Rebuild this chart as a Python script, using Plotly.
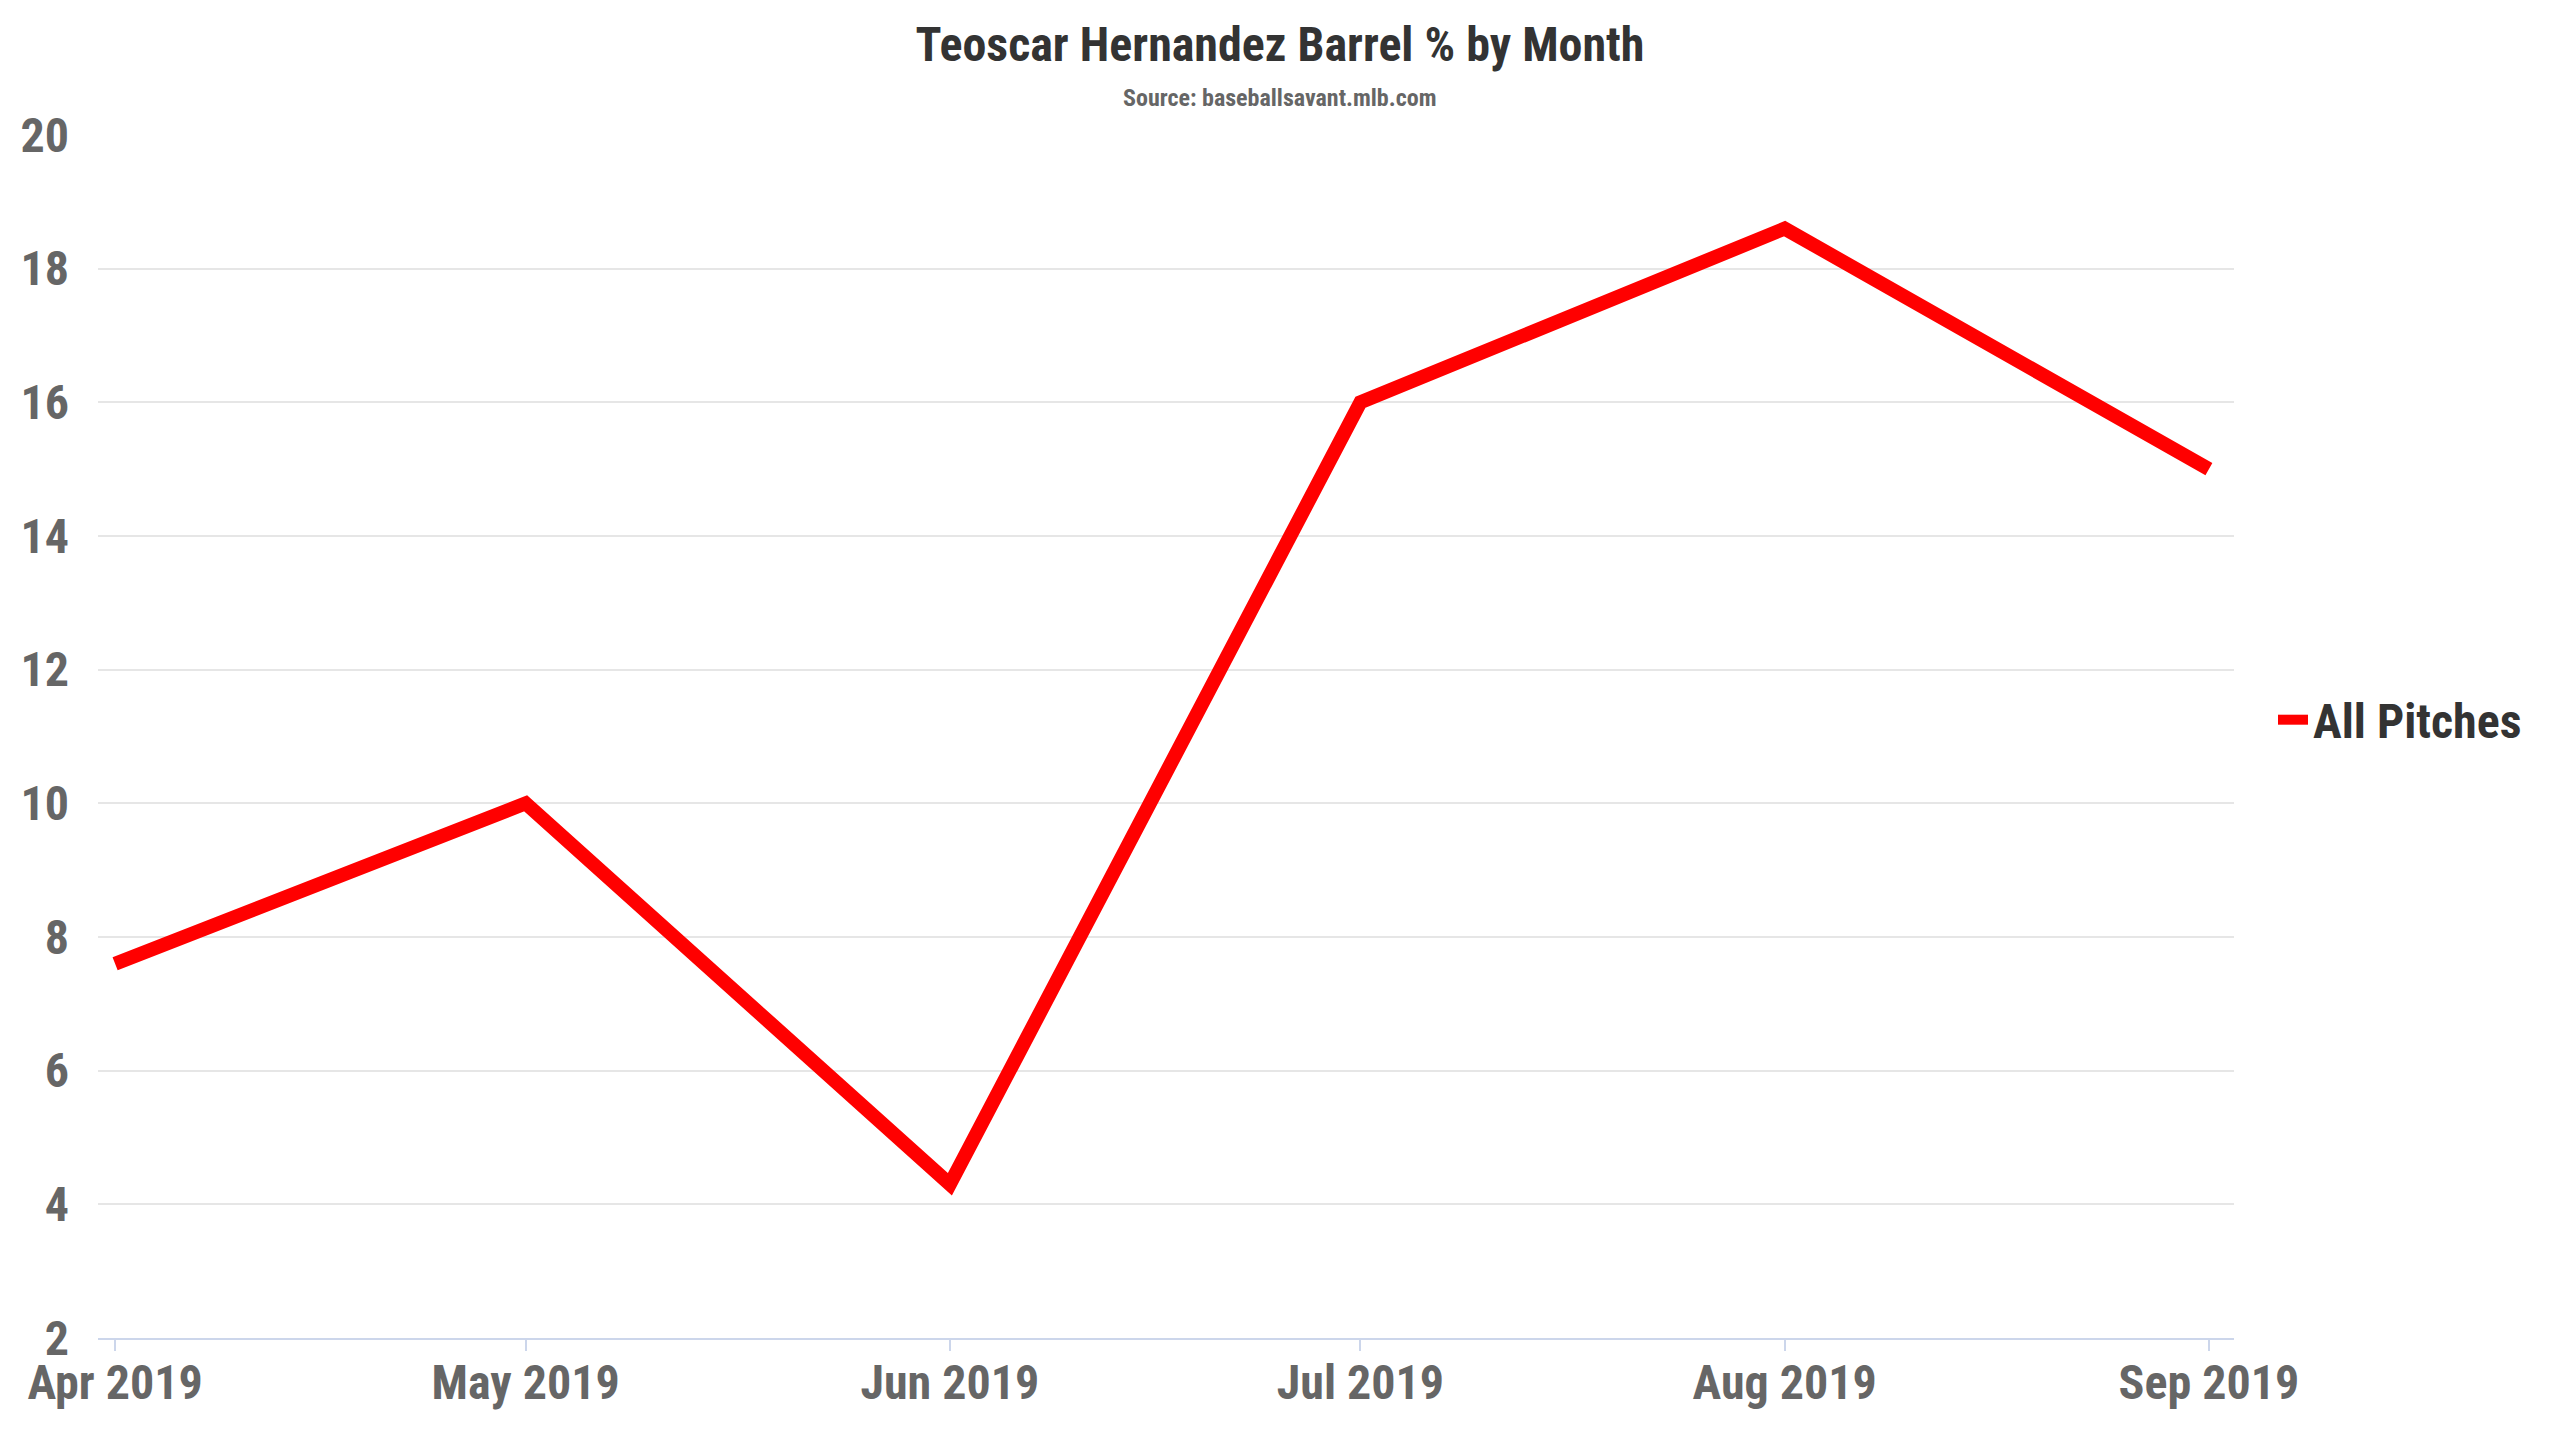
import plotly.graph_objects as go

months = ["2019-04-01", "2019-05-01", "2019-06-01", "2019-07-01", "2019-08-01", "2019-09-01"]
barrel_pct = [7.6, 10.0, 4.3, 16.0, 18.6, 15.0]
series_name = "All Pitches"
title_text = "Teoscar Hernandez Barrel % by Month"
subtitle_text = "Source: baseballsavant.mlb.com"

FONT = "Roboto Condensed, Roboto, sans-serif"

fig = go.Figure()
fig.add_trace(go.Scatter(
    x=months, y=barrel_pct, name=series_name, mode="lines",
    line=dict(color="#ff0000", width=14),
    hoverinfo="x+y",
))

fig.update_layout(
    width=2560, height=1440,
    paper_bgcolor="white", plot_bgcolor="white",
    margin=dict(l=98, r=2560 - 2234, t=135, b=1440 - 1338, autoexpand=False),
    font=dict(family=FONT),
    title=dict(
        text="<b>" + title_text + "</b>",
        x=0.5, xanchor="center", xref="container",
        y=1 - 44 / 1440, yanchor="middle", yref="container",
        font=dict(size=48, color="#333333", family=FONT),
    ),
    annotations=[dict(
        text="<b>" + subtitle_text + "</b>",
        x=(1279 - 98) / 2136, xref="paper", xanchor="center",
        y=1 + (135 - 98) / 1203, yref="paper", yanchor="middle",
        showarrow=False,
        font=dict(size=24, color="#666666", family=FONT),
    )],
    showlegend=True,
    legend=dict(
        x=1.0 + 39 / 2136, xref="paper", xanchor="left",
        y=1 - 720 / 1440, yref="container", yanchor="middle",
        font=dict(size=48, color="#333333", family=FONT, weight="bold"),
        itemwidth=30,
        bgcolor="rgba(0,0,0,0)",
    ),
    xaxis=dict(
        type="date",
        range=["2019-03-30 18:00", "2019-09-02 20:00"],
        dtick="M1", tick0="2019-04-01",
        tickformat="%b %Y",
        showgrid=False, zeroline=False,
        showline=True, linecolor="#ccd6eb", linewidth=2,
        ticks="outside", ticklen=11, tickwidth=2, tickcolor="#ccd6eb",
        ticklabelstandoff=-10,
        tickfont=dict(size=48, color="#666666", family=FONT, weight="bold"),
    ),
    yaxis=dict(
        range=[2, 20], dtick=2, tick0=2,
        showgrid=True, gridcolor="#e6e6e6", gridwidth=2,
        zeroline=False, showline=False, ticks="",
        ticklabelstandoff=28,
        tickfont=dict(size=48, color="#666666", family=FONT, weight="bold"),
    ),
)

fig.write_html("out.html", config={"displayModeBar": False},
               post_script="document.body.style.margin='0';")
